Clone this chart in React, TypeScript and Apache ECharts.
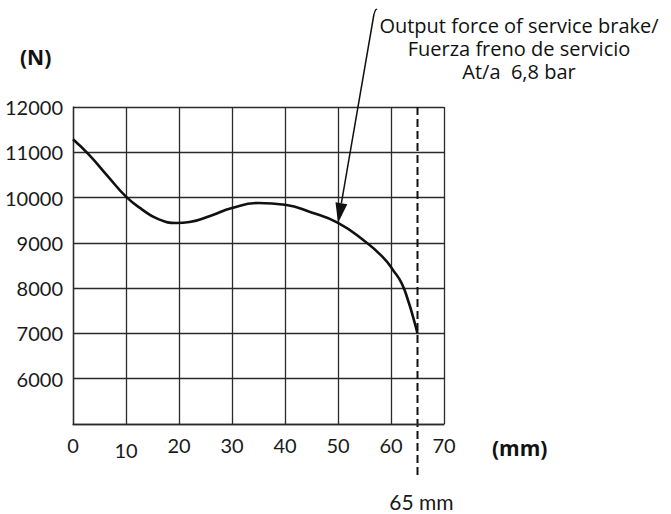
import React, { useEffect, useRef } from "react";
import * as echarts from "echarts";

const xTicks = [0, 10, 20, 30, 40, 50, 60, 70];
const yTicks = [5000, 6000, 7000, 8000, 9000, 10000, 11000, 12000];
const strokeMm = [0, 3, 6.5, 10, 13, 16, 19.5, 22, 26, 30, 35, 40, 45, 50, 55, 58.5, 60.5, 62, 63.3, 64.2, 65];
const forceN = [11290, 10950, 10480, 10020, 9740, 9530, 9440, 9460, 9600, 9770, 9880, 9840, 9670, 9440, 9040, 8680, 8380, 8110, 7700, 7350, 7000];
const maxStroke = 65;
const arrowTarget = [50, 9440];
const annotationLines = ["Output force of service brake/", "Fuerza freno de servicio", "At/a  6,8 bar"];

const axisFont = "Lato, 'DejaVu Sans', sans-serif";
const noteFont = "'Open Sans', Lato, sans-serif";

export default function App() {
  const ref = useRef<HTMLDivElement>(null);
  useEffect(() => {
    if (!ref.current) return;
    const chart = echarts.init(ref.current, null, { renderer: "svg" });
    const gridColor = "#2a2a2a";
    chart.setOption({
      animation: false,
      grid: { left: 73, right: 227, top: 107, bottom: 90 },
      xAxis: {
        type: "value",
        min: xTicks[0],
        max: xTicks[xTicks.length - 1],
        interval: 10,
        axisLine: { show: true, lineStyle: { color: gridColor, width: 1.3 } },
        axisTick: { show: false },
        splitLine: { show: true, lineStyle: { color: gridColor, width: 1.3 } },
        axisLabel: {
          margin: 11,
          fontSize: 20,
          fontFamily: axisFont,
          color: "#1a1a1a",
          formatter: (v: number) => (v === 10 ? "{low|10}" : String(v)),
          rich: { low: { fontSize: 20, fontFamily: axisFont, color: "#1a1a1a", padding: [5, 0, 0, 0] } },
        },
      },
      yAxis: {
        type: "value",
        min: yTicks[0],
        max: yTicks[yTicks.length - 1],
        interval: 1000,
        axisLine: { show: true, lineStyle: { color: gridColor, width: 1.3 } },
        axisTick: { show: false },
        splitLine: { show: true, lineStyle: { color: gridColor, width: 1.3 } },
        axisLabel: {
          margin: 10,
          fontSize: 20,
          fontFamily: axisFont,
          color: "#1a1a1a",
          formatter: (v: number) => (v === yTicks[0] ? "" : String(v)),
        },
      },
      series: [
        {
          type: "line",
          data: strokeMm.map((x, i) => [x, forceN[i]]),
          smooth: 0.5,
          showSymbol: false,
          symbol: "none",
          lineStyle: { color: "#111", width: 2.6 },
        },
      ],
    });

    const [dx, gridTop] = chart.convertToPixel({ gridIndex: 0 }, [maxStroke, yTicks[yTicks.length - 1]]) as number[];
    const [tx, ty] = chart.convertToPixel({ gridIndex: 0 }, arrowTarget) as number[];
    const sx = 374, sy = 14;
    const len = Math.hypot(tx - sx, ty - sy);
    const ux = (tx - sx) / len, uy = (ty - sy) / len;
    const bx = tx - 20 * ux, by = ty - 20 * uy;
    const px = -uy, py = ux;

    const noteTexts = annotationLines.map((t, i) => ({
      type: "text",
      x: 519,
      y: 25 + i * 23,
      style: { text: t, font: `20px ${noteFont}`, fill: "#111", align: "center", verticalAlign: "middle" },
    }));

    chart.setOption({
      graphic: [
        {
          type: "line",
          shape: { x1: dx, y1: gridTop, x2: dx, y2: 478 },
          style: { stroke: "#111", lineWidth: 2, lineDash: [8, 4] },
        },
        {
          type: "text",
          x: dx + 4,
          y: 501,
          style: { text: `${maxStroke} mm`, font: `21px ${axisFont}`, fill: "#1a1a1a", align: "center", verticalAlign: "middle" },
        },
        {
          type: "line",
          shape: { x1: sx, y1: sy, x2: bx, y2: by },
          style: { stroke: "#111", lineWidth: 1.5 },
        },
        {
          type: "polyline",
          shape: { points: [[sx, sy], [sx + 1.5, sy - 4], [sx + 3, sy - 5]] },
          style: { stroke: "#111", lineWidth: 1.3, fill: "none" },
        },
        {
          type: "polygon",
          shape: { points: [[tx, ty], [bx + 6 * px, by + 6 * py], [bx - 6 * px, by - 6 * py]] },
          style: { fill: "#111" },
        },
        ...noteTexts,
        {
          type: "text",
          x: 20,
          y: 57,
          style: { text: "(N)", font: `bold 21px ${noteFont}`, fill: "#111", align: "left", verticalAlign: "middle" },
        },
        {
          type: "text",
          x: 492,
          y: 448,
          style: { text: "(mm)", font: `bold 21px ${noteFont}`, fill: "#111", align: "left", verticalAlign: "middle" },
        },
      ],
    });

    return () => chart.dispose();
  }, []);
  return <div ref={ref} style={{ position: "absolute", left: 0, top: 0, width: 671, height: 514 }} />;
}
